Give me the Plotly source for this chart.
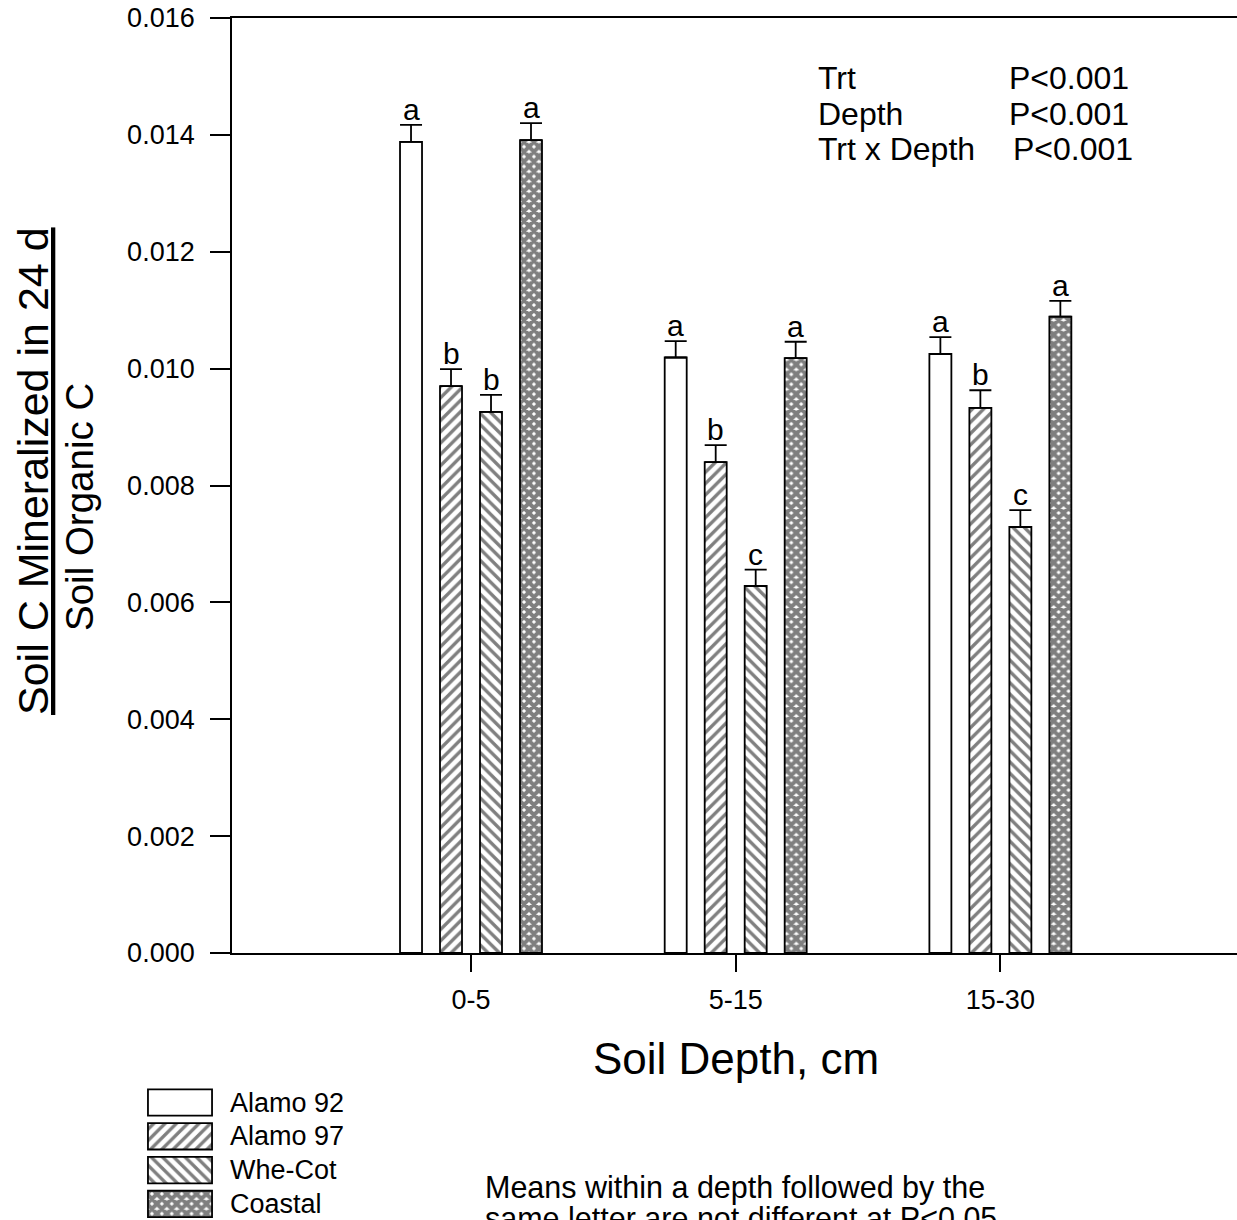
import plotly.graph_objects as go

# ---- data -------------------------------------------------------------
depths = ["0-5", "5-15", "15-30"]
treatments = ["Alamo 92", "Alamo 97", "Whe-Cot", "Coastal"]

alamo92 = [0.01388, 0.01019, 0.01025]
alamo97 = [0.00970, 0.00840, 0.00933]
whe_cot = [0.00926, 0.00628, 0.00729]
coastal = [0.01391, 0.01018, 0.01089]

err_alamo92 = [0.00029, 0.00028, 0.00029]
err_alamo97 = [0.00029, 0.00029, 0.00030]
err_whe_cot = [0.00029, 0.00028, 0.00029]
err_coastal = [0.00029, 0.00028, 0.00027]

letters_alamo92 = ["a", "a", "a"]
letters_alamo97 = ["b", "b", "b"]
letters_whe_cot = ["b", "c", "c"]
letters_coastal = ["a", "a", "a"]

y_ticks = [0.000, 0.002, 0.004, 0.006, 0.008, 0.010, 0.012, 0.014, 0.016]

stat_terms = ["Trt", "Depth", "Trt x Depth"]
stat_p = ["P&lt;0.001", "P&lt;0.001", "P&lt;0.001"]

footnote_lines = ["Means within a depth followed by the",
                  "same letter are not different at P&lt;0.05"]

# ---- styling ----------------------------------------------------------
W, H = 1237, 1220
FONT = "Liberation Sans, Arial, Helvetica, sans-serif"
patterns = ["", "/", "\\", "x"]
pat_size = [8, 8, 8, 7]
pat_solid = [0.3, 0.42, 0.42, 0.82]

values = [alamo92, alamo97, whe_cot, coastal]
errors = [err_alamo92, err_alamo97, err_whe_cot, err_coastal]
letters = [letters_alamo92, letters_alamo97, letters_whe_cot, letters_coastal]


def px_x(p):
    return p / W


def px_y(p):
    return 1 - p / H


# grouped bar geometry (in category units)
slot = 0.1511
bargap = 1 - 4 * slot
bargroupgap = 0.45

fig = go.Figure()
x_idx = list(range(len(depths)))

for i, name in enumerate(treatments):
    fig.add_trace(go.Bar(
        x=x_idx, y=values[i], name=name,
        marker=dict(
            color="white",
            line=dict(color="black", width=1.8),
            pattern=dict(shape=patterns[i], fgcolor="black", bgcolor="white",
                         size=pat_size[i], solidity=pat_solid[i]),
        ),
        error_y=dict(type="data", array=errors[i], arrayminus=[0] * len(depths),
                     symmetric=False, color="black", thickness=1.8, width=11),
        showlegend=False,
    ))

# letters above each bar
for i in range(len(treatments)):
    for j in x_idx:
        fig.add_annotation(
            x=j + (i - 1.5) * slot, y=values[i][j] + errors[i][j],
            xref="x", yref="y", text=letters[i][j], showarrow=False,
            yanchor="bottom", xanchor="center", yshift=-3,
            font=dict(family=FONT, size=30, color="black"),
        )

# legend swatches drawn as bars on an auxiliary axis pair
for i, name in enumerate(treatments):
    fig.add_trace(go.Bar(
        x=[1], y=[i], base=0, orientation="h", width=0.78,
        xaxis="x2", yaxis="y2",
        marker=dict(
            color="white",
            line=dict(color="black", width=1.8),
            pattern=dict(shape=patterns[i], fgcolor="black", bgcolor="white",
                         size=pat_size[i], solidity=pat_solid[i]),
        ),
        showlegend=False, hoverinfo="skip",
    ))
    fig.add_annotation(
        x=px_x(228), y=px_y(1102.5 + 33.8 * i), xref="paper", yref="paper",
        text=name, showarrow=False, xanchor="left", yanchor="middle",
        font=dict(family=FONT, size=27, color="black"),
    )

axis_font = dict(family=FONT, size=27, color="black")

fig.update_layout(
    width=W, height=H,
    margin=dict(l=0, r=0, t=0, b=0, pad=0),
    paper_bgcolor="white", plot_bgcolor="white",
    barmode="group", bargap=bargap, bargroupgap=bargroupgap,
    showlegend=False,
    xaxis=dict(
        domain=[px_x(232), 1.0], range=[-0.903, 2.894], automargin=False,
        tickmode="array", tickvals=x_idx, ticktext=depths,
        showline=True, linecolor="black", linewidth=1.8, mirror=True,
        ticks="outside", ticklen=17, tickwidth=1.8, tickcolor="black",
        ticklabelstandoff=5,
        showgrid=False, zeroline=False, tickfont=axis_font,
    ),
    yaxis=dict(
        domain=[px_y(953), px_y(18)], range=[0, 0.016], automargin=False,
        tickmode="array", tickvals=y_ticks, tickformat=".3f",
        showline=True, linecolor="black", linewidth=1.8,
        ticks="outside", ticklen=20, tickwidth=1.8, tickcolor="black",
        ticklabelstandoff=10,
        showgrid=False, zeroline=False, tickfont=axis_font,
    ),
    xaxis2=dict(domain=[px_x(147), px_x(213)], range=[-0.015, 1.015],
                anchor="y2", visible=False, fixedrange=True, automargin=False),
    yaxis2=dict(domain=[0, px_y(1085)], range=[3.476, -0.518],
                anchor="x2", visible=False, fixedrange=True, automargin=False),
)

# axis titles
fig.add_annotation(
    x=px_x(736), y=px_y(1058), xref="paper", yref="paper",
    text="Soil Depth, cm", showarrow=False, xanchor="center", yanchor="middle",
    font=dict(family=FONT, size=44, color="black"),
)
fig.add_annotation(
    x=px_x(33), y=px_y(471), xref="paper", yref="paper",
    text="<u>Soil C Mineralized in 24 d</u>", showarrow=False, textangle=-90,
    xanchor="center", yanchor="middle",
    font=dict(family=FONT, size=43, color="black"),
)
fig.add_annotation(
    x=px_x(80), y=px_y(507), xref="paper", yref="paper",
    text="Soil Organic C", showarrow=False, textangle=-90,
    xanchor="center", yanchor="middle",
    font=dict(family=FONT, size=38.5, color="black"),
)

# statistics block
stat_font = dict(family=FONT, size=32, color="black")
stat_rows_y = [78, 114, 149]
stat_p_x = [1007, 1007, 1011]
for k in range(len(stat_terms)):
    fig.add_annotation(
        x=px_x(816), y=px_y(stat_rows_y[k]), xref="paper", yref="paper",
        text=stat_terms[k], showarrow=False, xanchor="left", yanchor="middle",
        font=stat_font,
    )
    fig.add_annotation(
        x=px_x(stat_p_x[k]), y=px_y(stat_rows_y[k]), xref="paper", yref="paper",
        text=stat_p[k], showarrow=False, xanchor="left", yanchor="middle",
        font=stat_font,
    )

# footnote (second line runs off the lower edge)
for k, line in enumerate(footnote_lines):
    fig.add_annotation(
        x=px_x(483), y=px_y(1168 + 31 * k), xref="paper", yref="paper",
        text=line, showarrow=False, align="left", xanchor="left", yanchor="top",
        font=dict(family=FONT, size=30.5, color="black"),
    )

fig.write_html("out.html")
